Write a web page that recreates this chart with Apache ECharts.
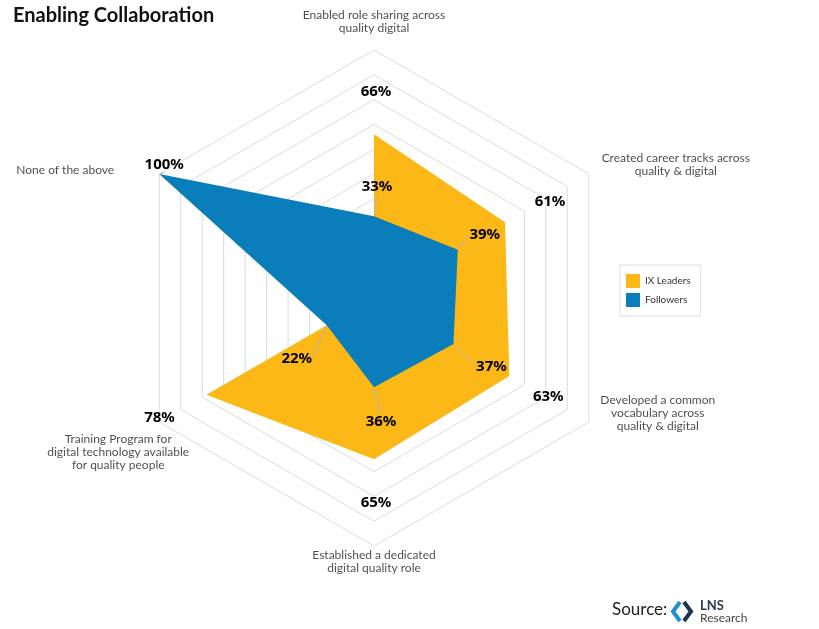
<!DOCTYPE html>
<html>
<head>
<meta charset="utf-8">
<script src="https://cdn.jsdelivr.net/npm/echarts@6/dist/echarts.min.js"></script>
<style>html,body{margin:0;padding:0;background:#fff}#c{width:819px;height:629px}</style>
</head>
<body>
<div id="c"></div>
<script>
const categories = [
  'Enabled role sharing across\nquality digital',
  'Created career tracks across\nquality & digital',
  'Developed a common\nvocabulary across\nquality & digital',
  'Established a dedicated\ndigital quality role',
  'Training Program for\ndigital technology available\nfor quality people',
  'None of the above'
];
const ixLeaders = [66, 61, 63, 65, 78, 0];
const followers = [33, 39, 37, 36, 22, 100];
const seriesNames = ['IX Leaders', 'Followers'];

// layout (label offsets relative to their vertex)
const ixLabelOffsets = [[2,-43],[45,-21],[39,21],[2,44],[-47,23],[0,0]];
const folLabelOffsets = [[3,-29],[27,-15],[38,23],[7,34],[-30,33],[5,-9]];
const nameOffsets = [[0,-28],[87,-9],[69,-9],[0,16],[-41,30],[-94,-4]];

const FONT = 'Lato';
const NUMFONT = 'Noto Sans';
const YELLOW = '#FBB817';
const BLUE = '#0A7EBB';
const CENTER = [374, 298];
const RADIUS = 248;

// radar lays indicators counter-clockwise; reference goes clockwise
const radarOrder = [0, 5, 4, 3, 2, 1];
const reorder = arr => radarOrder.map(i => arr[i]);

const chart = echarts.init(document.getElementById('c'));

function valueLabelSeries(name, values, offsets, withLine) {
  return {
    type: 'scatter',
    name: name + ' labels',
    coordinateSystem: 'polar',
    symbol: 'circle',
    symbolSize: 1,
    itemStyle: { color: 'rgba(0,0,0,0)' },
    silent: true,
    z: 10,
    data: values.map((v, i) => ({
      value: [v, i],
      label: { show: v > 0 },
      labelLine: { show: withLine && v > 0 }
    })),
    label: {
      show: true,
      position: 'inside',
      formatter: p => p.value[0] + '%',
      fontFamily: NUMFONT,
      fontWeight: 'bold',
      fontSize: 15,
      color: '#000',
      opacity: 1,
      textBorderWidth: 0
    },
    labelLayout: p => ({ dx: offsets[p.dataIndex][0], dy: offsets[p.dataIndex][1] }),
    labelLine: { show: withLine, length2: 0, lineStyle: { color: '#b5b5b5', width: 1 } }
  };
}

const option = {
  backgroundColor: '#fff',
  animation: false,
  title: {
    text: 'Enabling Collaboration',
    left: 8, top: 1,
    textStyle: { fontFamily: FONT, fontSize: 20, fontWeight: 'bold', color: '#111' }
  },
  legend: {
    data: seriesNames,
    orient: 'vertical',
    left: 620, top: 265,
    icon: 'rect',
    itemWidth: 14, itemHeight: 14,
    itemGap: 5,
    padding: [9, 10, 9, 6],
    borderColor: '#dedede', borderWidth: 1,
    textStyle: { fontFamily: FONT, fontSize: 10, color: '#333' }
  },
  radar: {
    center: CENTER,
    radius: RADIUS,
    startAngle: 90,
    splitNumber: 10,
    shape: 'polygon',
    indicator: reorder(categories).map(n => ({ name: n, max: 100, min: 0 })),
    axisName: { show: false },
    axisLine: { show: false },
    axisTick: { show: false },
    axisLabel: { show: false },
    splitArea: { show: false },
    splitLine: { lineStyle: { color: '#dcdcdc', width: 1 } }
  },
  polar: { center: CENTER, radius: RADIUS },
  angleAxis: {
    type: 'category',
    data: categories,
    startAngle: 90,
    clockwise: true,
    boundaryGap: false,
    show: false
  },
  radiusAxis: { type: 'value', min: 0, max: 100, show: false },
  series: [
    {
      type: 'radar',
      name: 'radar',
      symbol: 'none',
      z: 2,
      data: [
        { name: seriesNames[0], value: reorder(ixLeaders),
          lineStyle: { width: 0, color: YELLOW }, itemStyle: { color: YELLOW },
          areaStyle: { color: YELLOW, opacity: 1 } },
        { name: seriesNames[1], value: reorder(followers),
          lineStyle: { width: 0, color: BLUE }, itemStyle: { color: BLUE },
          areaStyle: { color: BLUE, opacity: 1 } }
      ]
    },
    valueLabelSeries('IX Leaders', ixLeaders, ixLabelOffsets, false),
    valueLabelSeries('Followers', followers, folLabelOffsets, true),
    {
      type: 'scatter',
      name: 'axis names',
      coordinateSystem: 'polar',
      symbolSize: 1,
      itemStyle: { color: 'rgba(0,0,0,0)' },
      silent: true,
      data: categories.map((c, i) => ({ value: [100, i], name: c })),
      label: {
        show: true,
        position: 'inside',
        formatter: p => p.name,
        fontFamily: FONT,
        fontSize: 12,
        lineHeight: 13,
        align: 'center',
        color: '#1e1e1e',
        textBorderWidth: 0
      },
      labelLayout: p => ({ dx: nameOffsets[p.dataIndex][0], dy: nameOffsets[p.dataIndex][1] })
    }
  ],
  graphic: [
    { type: 'text', left: 612, top: 601,
      style: { text: 'Source:', font: '17px ' + FONT, fill: '#222' } },
    { type: 'polyline', shape: { points: [[680,602],[673,611.5],[680,621]] },
      style: { stroke: '#1E8FCF', lineWidth: 4, fill: null } },
    { type: 'polyline', shape: { points: [[684,602],[691,611.5],[684,621]] },
      style: { stroke: '#1B3550', lineWidth: 4, fill: null } },
    { type: 'text', left: 700, top: 599,
      style: { text: 'LNS', font: 'bold 13px ' + FONT, fill: '#2B3A4A' } },
    { type: 'text', left: 700, top: 612,
      style: { text: 'Research', font: '12px ' + FONT, fill: '#444' } }
  ]
};
chart.setOption(option);
</script>
</body>
</html>
